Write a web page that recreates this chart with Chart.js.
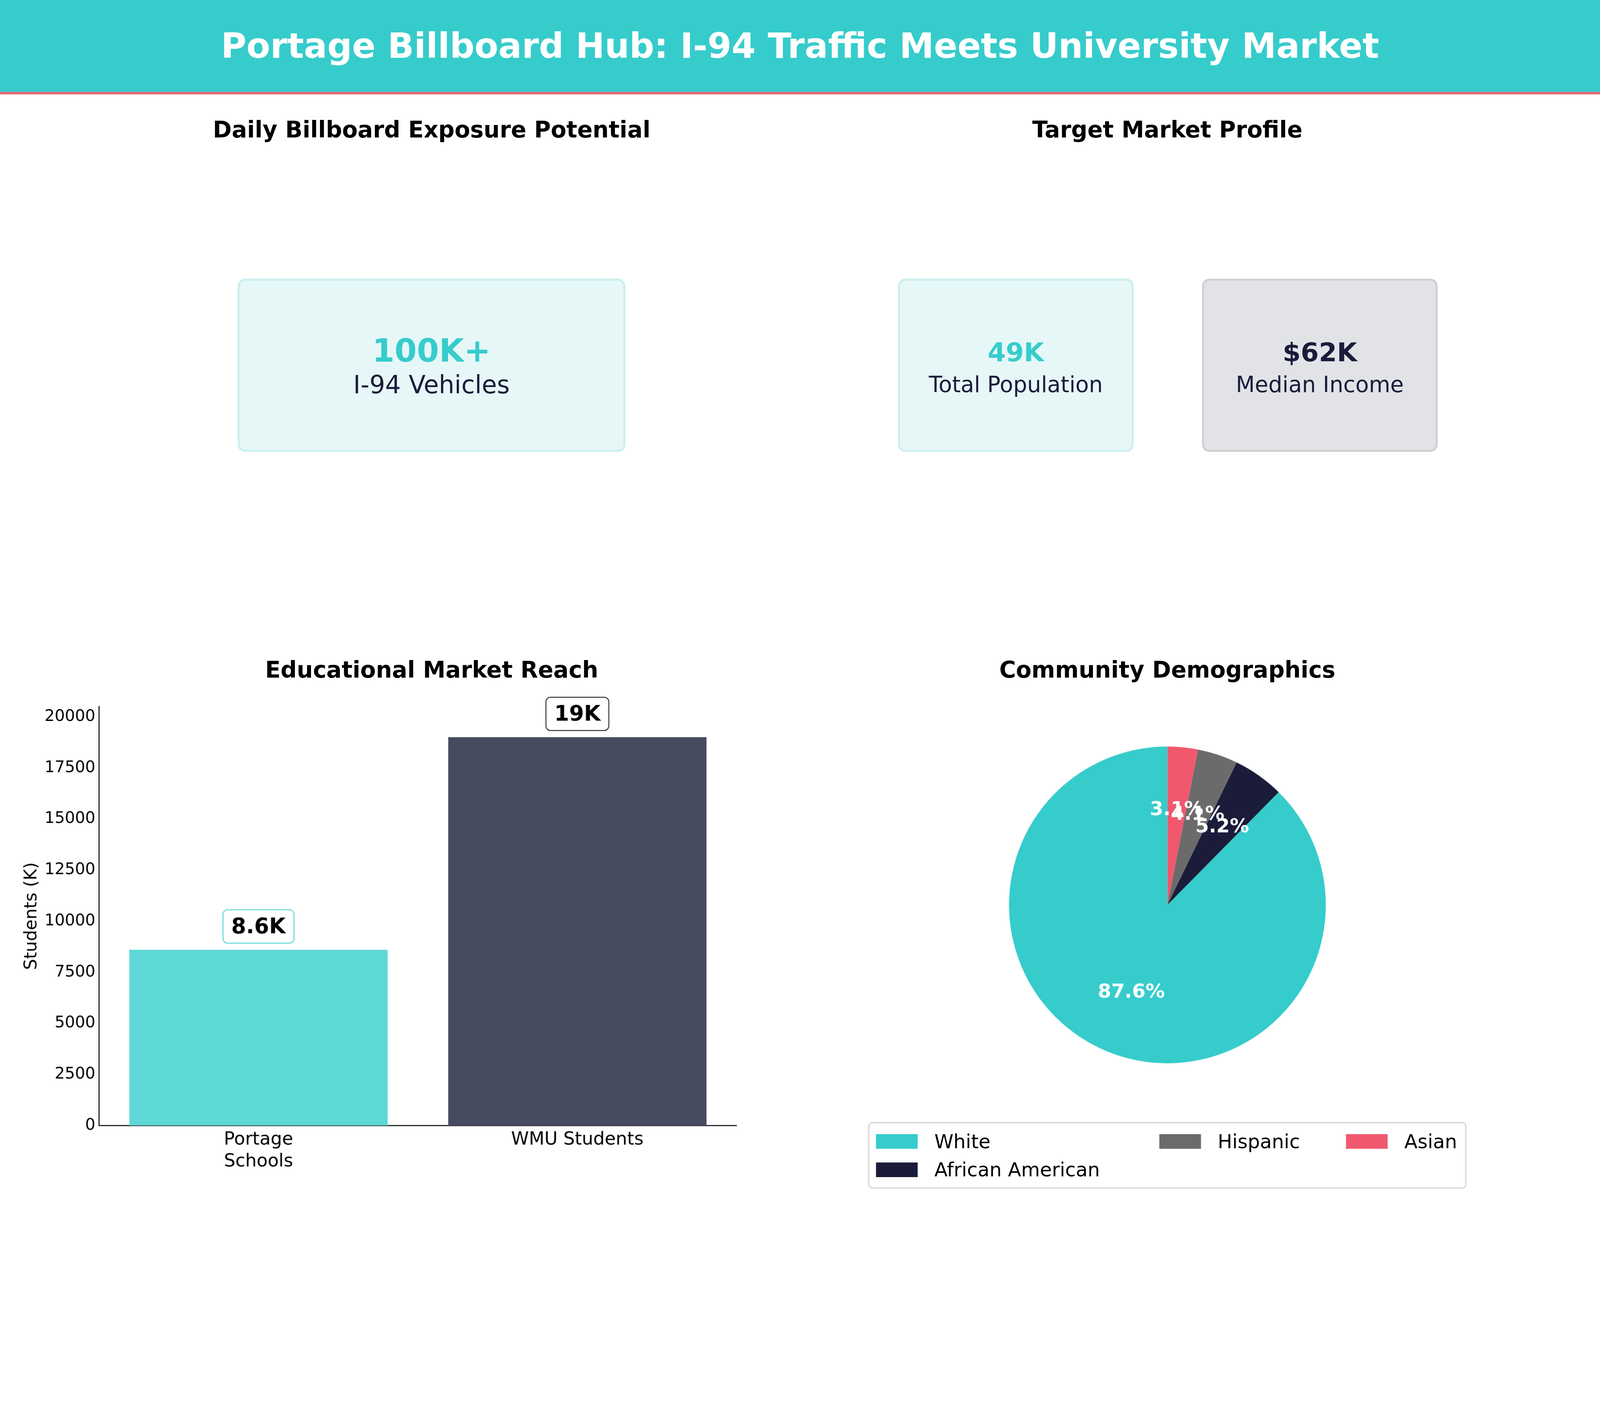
<!DOCTYPE html>
<html><head><meta charset="utf-8">
<script src="https://cdn.jsdelivr.net/npm/chart.js@4"></script>
<style>
html,body{margin:0;padding:0;overflow:hidden;background:#fff}
#wrap{width:4800px;height:3600px;background:#fff;font-family:"DejaVu Sans",sans-serif;position:absolute;left:0;top:0;transform-origin:0 0;overflow:hidden}
.abs{position:absolute}
#hdr{left:0;top:0;width:4800px;height:276px;background:#36cccc;border-bottom:7px solid #f0626e;color:#fff;font-weight:bold;font-size:104px;display:flex;align-items:center;justify-content:center}
.sub{font-weight:bold;font-size:68px;color:#000;transform:translateX(-50%);white-space:nowrap}
.box{border-radius:22px;display:flex;flex-direction:column;align-items:center;justify-content:center;box-sizing:border-box}
.big{font-weight:bold}
#legend{left:2605px;top:3367px;width:1794px;height:199px;border:3px solid #ccc;border-radius:12px;box-sizing:border-box;display:grid;grid-template-columns:850px 560px 340px;padding:12px 20px;font-size:58px;color:#000}
.li{display:flex;align-items:center;height:85px}
.sw{width:125px;height:44px;margin-right:50px}
</style></head><body>
<div id="wrap">
<div id="hdr" class="abs">Portage Billboard Hub: I-94 Traffic Meets University Market</div>
<div class="abs sub" style="left:1295px;top:350px">Daily Billboard Exposure Potential</div>
<div class="abs sub" style="left:3502px;top:350px">Target Market Profile</div>
<div class="abs sub" style="left:1295px;top:1970px">Educational Market Reach</div>
<div class="abs sub" style="left:3502px;top:1970px">Community Demographics</div>
<div class="abs box" style="left:713px;top:836px;width:1163px;height:520px;background:#e6f7f7;border:6px solid #c9f0ee">
 <div class="big" style="font-size:96px;color:#36cccc;line-height:1.2">100K+</div>
 <div style="font-size:74px;color:#1a1c3a">I-94 Vehicles</div></div>
<div class="abs box" style="left:2694px;top:836px;width:707px;height:520px;background:#e6f7f7;border:6px solid #c9f0ee">
 <div class="big" style="font-size:78px;color:#36cccc;line-height:1.5">49K</div>
 <div style="font-size:66px;color:#1a1c3a">Total Population</div></div>
<div class="abs box" style="left:3606px;top:836px;width:707px;height:520px;background:#e2e3e7;border:6px solid #cfd0d4">
 <div class="big" style="font-size:78px;color:#1a1c3a;line-height:1.5">$62K</div>
 <div style="font-size:66px;color:#1a1c3a">Median Income</div></div>
<div class="abs" style="left:60px;top:2080px;width:2200px;height:1440px"><canvas id="bar" width="2200" height="1440"></canvas></div>
<div class="abs" style="left:3002px;top:2215px;width:1000px;height:1000px"><canvas id="pie" width="1000" height="1000"></canvas></div>
<div id="legend" class="abs"></div>
</div>
<script>
const barCats=[["Portage","Schools"],"WMU Students"];
const barVals=[8600,19000];
const barLabels=["8.6K","19K"];
const yTicks=[0,2500,5000,7500,10000,12500,15000,17500,20000];
const pieCats=["Asian","Hispanic","African American","White"];
const pieVals=[3.1,4.1,5.2,87.6];
const legendOrder=["White","Hispanic","Asian","African American"];
const pieColors={"White":"#36cccc","African American":"#1a1c3a","Hispanic":"#6b6b6b","Asian":"#f0586e"};
const barColors=["#5dd8d6","#464b60"];
const barEdge=["#5dd8d6","#333"];

const wrap=document.getElementById('wrap');
const sc=Math.min(window.innerWidth/4800,window.innerHeight/3600);
wrap.style.transform='scale('+sc+')';
const dpr=(window.devicePixelRatio||1)*sc;

const lg=document.getElementById('legend');
legendOrder.forEach(n=>{const d=document.createElement('div');d.className='li';d.innerHTML='<span class="sw" style="background:'+pieColors[n]+'"></span>'+n;lg.appendChild(d);});

const barLabelPlugin={id:'bl',afterDatasetsDraw(c){const ctx=c.ctx;const m=c.getDatasetMeta(0);
 m.data.forEach((b,i)=>{ctx.save();ctx.font='bold 64px "DejaVu Sans"';const t=barLabels[i];const w=ctx.measureText(t).width+50;const h=100;
 const x=b.x,y=b.y-70;ctx.beginPath();ctx.roundRect(x-w/2,y-h/2,w,h,14);ctx.fillStyle='#fff';ctx.fill();ctx.lineWidth=3;ctx.strokeStyle=barEdge[i];ctx.stroke();
 ctx.fillStyle='#000';ctx.textAlign='center';ctx.textBaseline='middle';ctx.fillText(t,x,y+3);ctx.restore();});}};
new Chart(document.getElementById('bar'),{type:'bar',
 data:{labels:barCats,datasets:[{data:barVals,backgroundColor:barColors,categoryPercentage:0.81,barPercentage:1}]},
 options:{responsive:false,devicePixelRatio:dpr,animation:false,layout:{padding:{top:40,right:50}},
  plugins:{legend:{display:false},tooltip:{enabled:false}},
  scales:{x:{grid:{display:false},border:{color:'#000',width:3},ticks:{color:'#000',font:{size:54,family:'DejaVu Sans'}}},
   y:{min:0,max:20500,afterBuildTicks(s){s.ticks=yTicks.map(v=>({value:v}));},grid:{display:false},border:{color:'#000',width:3},
    ticks:{color:'#000',font:{size:48,family:'DejaVu Sans'},callback:v=>String(v)},
    title:{display:true,text:'Students (K)',color:'#000',font:{size:52,family:'DejaVu Sans'}}}}},plugins:[barLabelPlugin]});

const pieLabelPlugin={id:'pl',afterDatasetsDraw(c){const ctx=c.ctx;const m=c.getDatasetMeta(0);
 m.data.forEach((a,i)=>{const ang=(a.startAngle+a.endAngle)/2;const r=a.outerRadius*0.6;
 ctx.save();ctx.font='bold 58px "DejaVu Sans"';ctx.fillStyle='#fff';ctx.textAlign='center';ctx.textBaseline='middle';
 ctx.fillText(pieVals[i].toFixed(1)+'%',a.x+Math.cos(ang)*r,a.y+Math.sin(ang)*r);ctx.restore();});}};
new Chart(document.getElementById('pie'),{type:'pie',
 data:{labels:pieCats,datasets:[{data:pieVals,backgroundColor:pieCats.map(n=>pieColors[n]),borderWidth:0}]},
 options:{responsive:false,devicePixelRatio:dpr,animation:false,layout:{padding:25},plugins:{legend:{display:false},tooltip:{enabled:false}}},plugins:[pieLabelPlugin]});
</script></body></html>
